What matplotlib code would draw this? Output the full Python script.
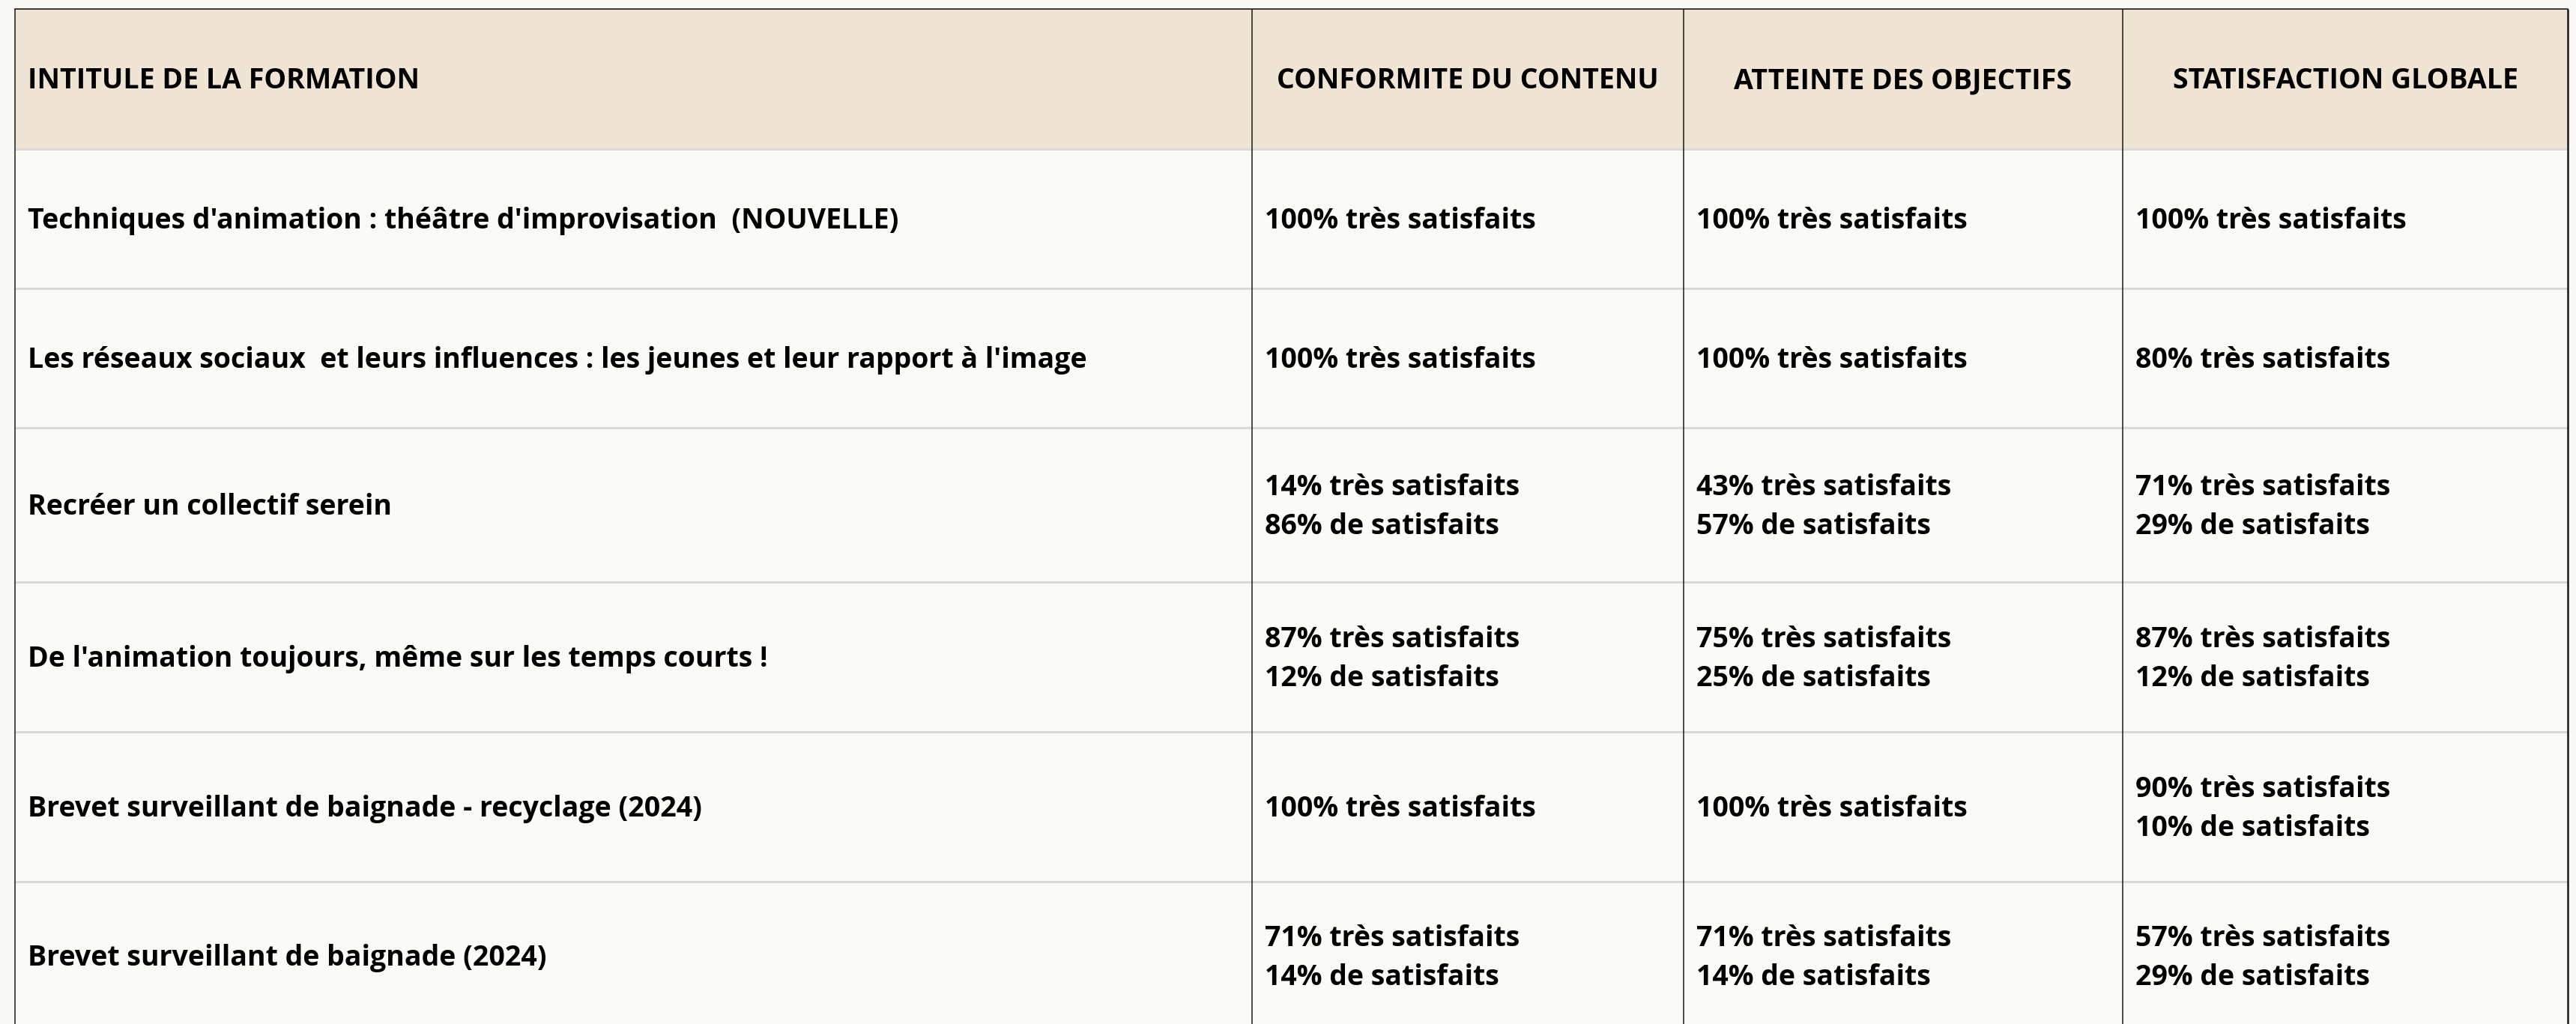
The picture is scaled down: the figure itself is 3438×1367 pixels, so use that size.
import matplotlib
matplotlib.use("Agg")
import matplotlib.pyplot as plt
from matplotlib.patches import Rectangle

# ---------------- data ----------------
headers = ["INTITULE DE LA FORMATION", "CONFORMITE DU CONTENU",
           "ATTEINTE DES OBJECTIFS", "STATISFACTION GLOBALE"]
formations = [
    "Techniques d'animation : théâtre d'improvisation  (NOUVELLE)",
    "Les réseaux sociaux  et leurs influences : les jeunes et leur rapport à l'image",
    "Recréer un collectif serein",
    "De l'animation toujours, même sur les temps courts !",
    "Brevet surveillant de baignade - recyclage (2024)",
    "Brevet surveillant de baignade (2024)",
]
conformite = [
    ["100% très satisfaits"],
    ["100% très satisfaits"],
    ["14% très satisfaits", "86% de satisfaits"],
    ["87% très satisfaits", "12% de satisfaits"],
    ["100% très satisfaits"],
    ["71% très satisfaits", "14% de satisfaits"],
]
objectifs = [
    ["100% très satisfaits"],
    ["100% très satisfaits"],
    ["43% très satisfaits", "57% de satisfaits"],
    ["75% très satisfaits", "25% de satisfaits"],
    ["100% très satisfaits"],
    ["71% très satisfaits", "14% de satisfaits"],
]
globale = [
    ["100% très satisfaits"],
    ["80% très satisfaits"],
    ["71% très satisfaits", "29% de satisfaits"],
    ["87% très satisfaits", "12% de satisfaits"],
    ["90% très satisfaits", "10% de satisfaits"],
    ["57% très satisfaits", "29% de satisfaits"],
]

# ---------------- layout (pixels) ----------------
W, H = 3438, 1367
col_edges = [20, 1671, 2247, 2833, 3427]
row_edges = [12, 199, 385, 571, 777, 977, 1177, 1375]
pad = 17
line_gap = 52
fs = 27
text_dy = 3

BG = "#F8F9F4"
HEAD = "#F0E5D4"
BODY = "#FAFAF6"
GRID_H = "#D9D9D9"
DARK = "#1A1A1A"

plt.rcParams['font.family'] = ['Open Sans', 'DejaVu Sans']

fig = plt.figure(figsize=(W / 100, H / 100), dpi=100, facecolor=BG)
ax = fig.add_axes([0, 0, 1, 1])
ax.set_xlim(0, W)
ax.set_ylim(H, 0)
ax.axis("off")

x0, x1 = col_edges[0], col_edges[-1]
ax.add_patch(Rectangle((x0, row_edges[0]), x1 - x0, row_edges[1] - row_edges[0],
                       facecolor=HEAD, edgecolor="none", zorder=1))
ax.add_patch(Rectangle((x0, row_edges[1]), x1 - x0, row_edges[-1] - row_edges[1],
                       facecolor=BODY, edgecolor="none", zorder=1))

for y in row_edges[1:-1]:
    ax.plot([x0, x1], [y, y], color=GRID_H, lw=2.2, zorder=2, solid_capstyle="butt")
ax.plot([x0, x1], [row_edges[0], row_edges[0]], color=DARK, lw=1.2, zorder=3)
for i, x in enumerate(col_edges):
    lw = 1.8 if i == len(col_edges) - 1 else 1.1
    ax.plot([x, x], [row_edges[0], row_edges[-1]], color=DARK, lw=lw, zorder=3,
            solid_capstyle="butt")

hy = (row_edges[0] + row_edges[1]) / 2 + text_dy
for j, h in enumerate(headers):
    if j == 0:
        ax.text(col_edges[0] + pad, hy, h, fontsize=fs, fontweight="bold",
                ha="left", va="center", color="black", zorder=4)
    else:
        ax.text((col_edges[j] + col_edges[j + 1]) / 2, hy, h, fontsize=fs,
                fontweight="bold", ha="center", va="center", color="black", zorder=4)

columns = [conformite, objectifs, globale]
for i, name in enumerate(formations):
    yc = (row_edges[i + 1] + row_edges[i + 2]) / 2 + text_dy
    ax.text(col_edges[0] + pad, yc, name, fontsize=fs, fontweight="bold",
            ha="left", va="center", color="black", zorder=4)
    for j, col in enumerate(columns):
        lines = col[i]
        n = len(lines)
        for k, t in enumerate(lines):
            y = yc + (k - (n - 1) / 2) * line_gap
            ax.text(col_edges[j + 1] + pad, y, t, fontsize=fs, fontweight="bold",
                    ha="left", va="center", color="black", zorder=4)

fig.savefig("out.png", dpi=100, facecolor=BG)
